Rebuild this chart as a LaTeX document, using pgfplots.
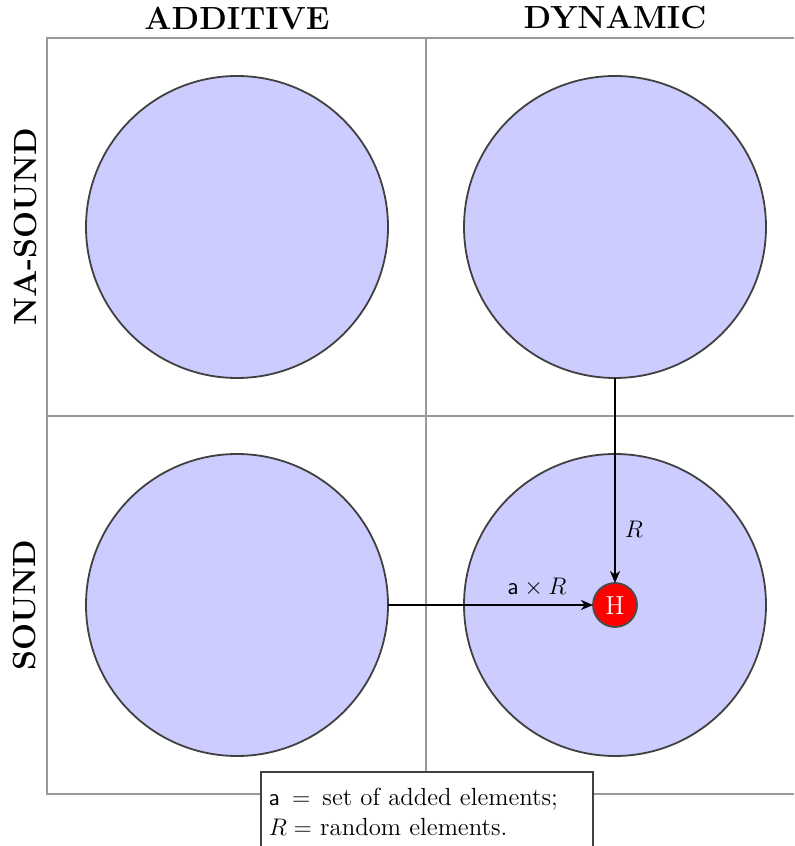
\documentclass[border=0pt]{standalone}
\usepackage{pgfplots}
\pgfplotsset{compat=1.18}
\usetikzlibrary{arrows.meta}
\begin{document}
\begin{tikzpicture}
\begin{axis}[
  set layers,
  scale only axis, width=373.5pt, height=378pt,
  xmin=47, xmax=794, ymin=38, ymax=794, y dir=reverse,
  hide axis, clip=false,
]
% frame and grid lines
\addplot[black!40, line width=0.55pt, on layer=axis background] coordinates {(794,38) (47,38) (47,794) (794,794)};
\addplot[black!40, line width=0.55pt, on layer=axis background] coordinates {(426,38) (426,794)};
\addplot[black!40, line width=0.55pt, on layer=axis background] coordinates {(47,416) (794,416)};
% big circles
\addplot[only marks, mark=*, mark size=75.5pt, mark options={fill=blue!20, draw=black!75, line width=0.9pt}, on layer=main]
  coordinates {(237,227) (615,227) (237,605) (615,605)};
% arrows
\addplot[-{Stealth[length=6pt, width=5pt, inset=1.8pt]}, black, line width=0.9pt, on layer=axis descriptions] coordinates {(615,378.5) (615,583)};
\addplot[-{Stealth[length=6pt, width=5pt, inset=1.8pt]}, black, line width=0.9pt, on layer=axis descriptions] coordinates {(388,605) (593,605)};
% small red circle
\addplot[only marks, mark=*, mark size=11pt, mark options={fill=red, draw=black!70, line width=0.9pt}, on layer=axis descriptions]
  coordinates {(615,605)};
\begin{pgfonlayer}{axis foreground}
\node[text=white, font=\fontsize{13}{15}\selectfont] at (axis cs:615,606) {H};
\node[font=\fontsize{12.6}{15}\selectfont] at (axis cs:634,529) {$R$};
\node[font=\fontsize{12.6}{15}\selectfont] at (axis cs:537,587) {$\mathsf{a}\times R$};
% titles
\node[font=\fontsize{16}{19}\selectfont\bfseries] at (axis cs:237,18) {ADDITIVE};
\node[font=\fontsize{16}{19}\selectfont\bfseries] at (axis cs:615,18) {DYNAMIC};
\node[font=\fontsize{16}{19}\selectfont\bfseries, rotate=90] at (axis cs:25,227) {NA-SOUND};
\node[font=\fontsize{16}{19}\selectfont\bfseries, rotate=90] at (axis cs:25,605) {SOUND};
% legend box
\node[draw=black!75, line width=0.9pt, fill=white, anchor=north west, align=left,
  inner xsep=4pt, inner ysep=8pt, text width=158pt, font=\fontsize{12.4}{15}\selectfont]
  at (axis cs:260,771) {$\mathsf{a}$\hspace{6pt}$=$\hspace{6pt}set of added elements;\\$R=$ random elements.};
\end{pgfonlayer}
\coordinate (tl) at (axis cs:0,0);
\coordinate (br) at (axis cs:794,846);
\end{axis}
\pgfresetboundingbox
\useasboundingbox (tl) rectangle (br);
\end{tikzpicture}
\end{document}
